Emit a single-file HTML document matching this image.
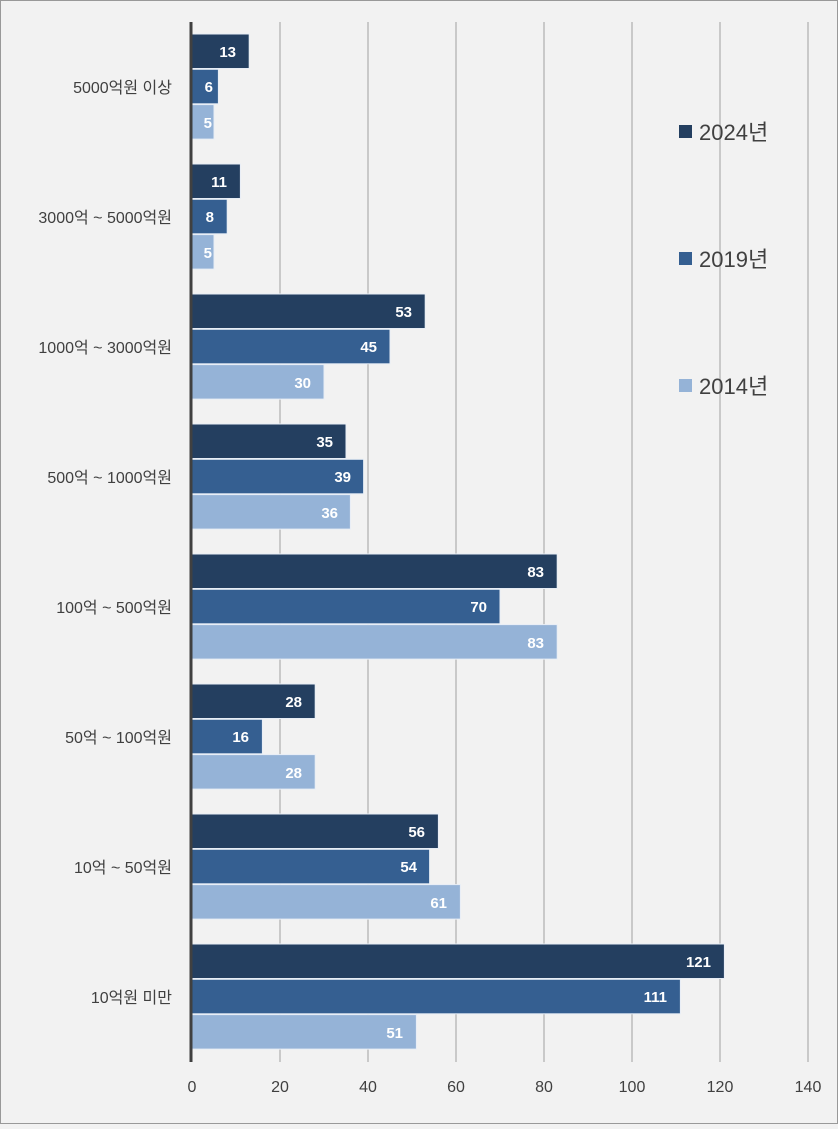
<!DOCTYPE html>
<html><head><meta charset="utf-8"><style>body{margin:0;background:#f2f2f2}</style></head><body>
<svg width="838" height="1124" xmlns="http://www.w3.org/2000/svg" font-family="'Liberation Sans','Noto Sans CJK KR',sans-serif">
<rect x="0.5" y="0.5" width="837" height="1123" fill="#f2f2f2" stroke="#999"/>
<g stroke="#bbb" stroke-width="1.5">
<line x1="280" y1="22" x2="280" y2="1062"/><line x1="368" y1="22" x2="368" y2="1062"/><line x1="456" y1="22" x2="456" y2="1062"/><line x1="544" y1="22" x2="544" y2="1062"/><line x1="632" y1="22" x2="632" y2="1062"/><line x1="720" y1="22" x2="720" y2="1062"/><line x1="808" y1="22" x2="808" y2="1062"/>
</g>
<g stroke="#e8eef6" stroke-width="1">
<g transform="translate(0,34)"><rect x="192" y="0" width="57.2" height="34.5" fill="#243f60"/><rect x="192" y="35.3" width="26.4" height="34.5" fill="#355f91"/><rect x="192" y="70.6" width="22" height="34.5" fill="#95b3d7"/></g>
<g transform="translate(0,164)"><rect x="192" y="0" width="48.4" height="34.5" fill="#243f60"/><rect x="192" y="35.3" width="35.2" height="34.5" fill="#355f91"/><rect x="192" y="70.6" width="22" height="34.5" fill="#95b3d7"/></g>
<g transform="translate(0,294)"><rect x="192" y="0" width="233.2" height="34.5" fill="#243f60"/><rect x="192" y="35.3" width="198" height="34.5" fill="#355f91"/><rect x="192" y="70.6" width="132" height="34.5" fill="#95b3d7"/></g>
<g transform="translate(0,424)"><rect x="192" y="0" width="154" height="34.5" fill="#243f60"/><rect x="192" y="35.3" width="171.6" height="34.5" fill="#355f91"/><rect x="192" y="70.6" width="158.4" height="34.5" fill="#95b3d7"/></g>
<g transform="translate(0,554)"><rect x="192" y="0" width="365.2" height="34.5" fill="#243f60"/><rect x="192" y="35.3" width="308" height="34.5" fill="#355f91"/><rect x="192" y="70.6" width="365.2" height="34.5" fill="#95b3d7"/></g>
<g transform="translate(0,684)"><rect x="192" y="0" width="123.2" height="34.5" fill="#243f60"/><rect x="192" y="35.3" width="70.4" height="34.5" fill="#355f91"/><rect x="192" y="70.6" width="123.2" height="34.5" fill="#95b3d7"/></g>
<g transform="translate(0,814)"><rect x="192" y="0" width="246.4" height="34.5" fill="#243f60"/><rect x="192" y="35.3" width="237.6" height="34.5" fill="#355f91"/><rect x="192" y="70.6" width="268.4" height="34.5" fill="#95b3d7"/></g>
<g transform="translate(0,944)"><rect x="192" y="0" width="532.4" height="34.5" fill="#243f60"/><rect x="192" y="35.3" width="488.4" height="34.5" fill="#355f91"/><rect x="192" y="70.6" width="224.4" height="34.5" fill="#95b3d7"/></g>
</g>
<g font-size="15" font-weight="bold" fill="#fff" text-anchor="end">
<g transform="translate(0,34)"><text x="236" y="23">13</text><text x="213" y="58">6</text><text x="212" y="94">5</text></g>
<g transform="translate(0,164)"><text x="227" y="23">11</text><text x="214" y="58">8</text><text x="212" y="94">5</text></g>
<g transform="translate(0,294)"><text x="412" y="23">53</text><text x="377" y="58">45</text><text x="311" y="94">30</text></g>
<g transform="translate(0,424)"><text x="333" y="23">35</text><text x="351" y="58">39</text><text x="338" y="94">36</text></g>
<g transform="translate(0,554)"><text x="544" y="23">83</text><text x="487" y="58">70</text><text x="544" y="94">83</text></g>
<g transform="translate(0,684)"><text x="302" y="23">28</text><text x="249" y="58">16</text><text x="302" y="94">28</text></g>
<g transform="translate(0,814)"><text x="425" y="23">56</text><text x="417" y="58">54</text><text x="447" y="94">61</text></g>
<g transform="translate(0,944)"><text x="711" y="23">121</text><text x="667" y="58">111</text><text x="403" y="94">51</text></g>
</g>
<line x1="191" y1="22" x2="191" y2="1062" stroke="#404040" stroke-width="3"/>
<g font-size="16" fill="#404040" text-anchor="middle">
<text x="192" y="1092">0</text><text x="280" y="1092">20</text><text x="368" y="1092">40</text><text x="456" y="1092">60</text><text x="544" y="1092">80</text><text x="632" y="1092">100</text><text x="720" y="1092">120</text><text x="808" y="1092">140</text>
</g>
<g font-size="16" fill="#404040" text-anchor="end">
<text x="172" y="93">5000억원 이상</text>
<text x="172" y="223">3000억 ~ 5000억원</text>
<text x="172" y="353">1000억 ~ 3000억원</text>
<text x="172" y="483">500억 ~ 1000억원</text>
<text x="172" y="613">100억 ~ 500억원</text>
<text x="172" y="743">50억 ~ 100억원</text>
<text x="172" y="873">10억 ~ 50억원</text>
<text x="172" y="1003">10억원 미만</text>
</g>
<g font-size="22" fill="#404040">
<rect x="679" y="125" width="13" height="13" fill="#243f60"/><text x="699" y="140">2024년</text>
<rect x="679" y="252" width="13" height="13" fill="#355f91"/><text x="699" y="267">2019년</text>
<rect x="679" y="379" width="13" height="13" fill="#95b3d7"/><text x="699" y="394">2014년</text>
</g>
</svg>
</body></html>
